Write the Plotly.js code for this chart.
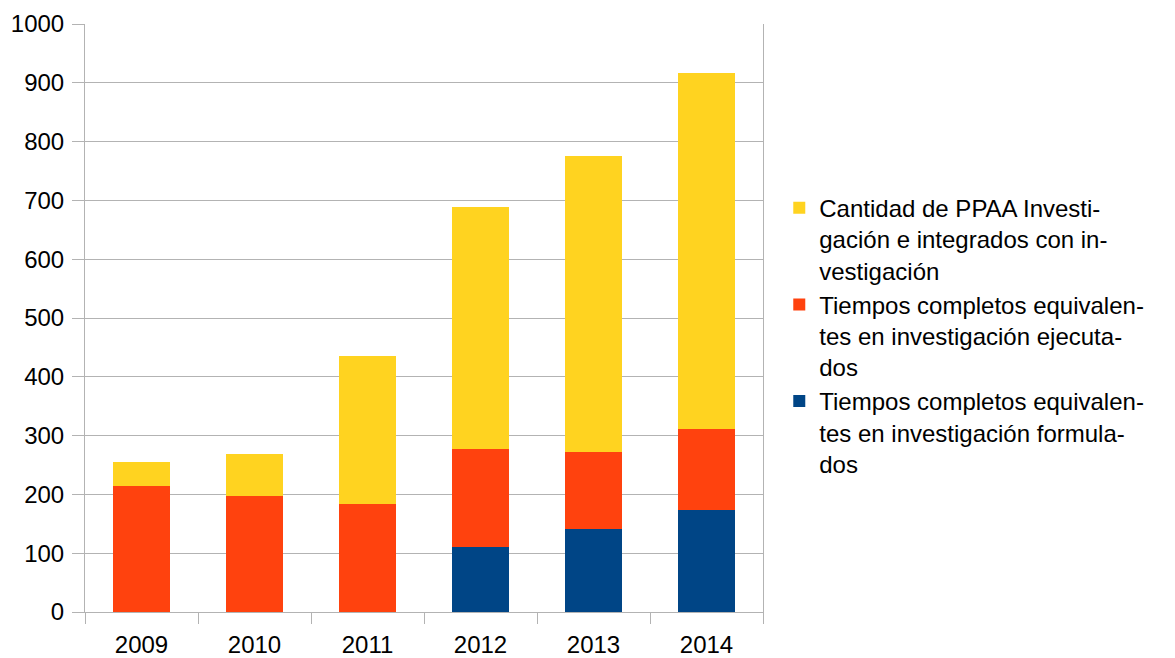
<!DOCTYPE html>
<html>
<head>
<meta charset="utf-8">
<script src="https://cdn.plot.ly/plotly-3.0.1.min.js"></script>
<style>html,body{margin:0;padding:0;background:#fff;}#chart{width:1175px;height:658px;}</style>
</head>
<body>
<div id="chart"></div>
<script>
const years = ['2009', '2010', '2011', '2012', '2013', '2014'];
const formulados = [0, 0, 0, 111, 142, 174];
const ejecutados = [214, 197, 184, 166, 130, 137];
const ppaa = [41, 71, 251, 412, 504, 605];
const seriesNames = [
  'Tiempos completos equivalen-<br>tes en investigación formula-<br>dos',
  'Tiempos completos equivalen-<br>tes en investigación ejecuta-<br>dos',
  'Cantidad de PPAA Investi-<br>gación e integrados con in-<br>vestigación'
];
const colors = ['#004586', '#FF420E', '#FFD320'];

const traces = [formulados, ejecutados, ppaa].map((vals, i) => ({
  type: 'bar',
  x: years,
  y: vals,
  name: seriesNames[i],
  marker: {color: colors[i], line: {width: 0}},
  hoverinfo: 'y+name'
}));

const font = {family: '"Liberation Sans", Arial, sans-serif', size: 24, color: '#000'};
const layout = {
  width: 1175, height: 658,
  margin: {l: 85, r: 412, t: 24, b: 46},
  barmode: 'stack',
  bargap: 0.5,
  paper_bgcolor: '#fff',
  plot_bgcolor: '#fff',
  font: font,
  showlegend: true,
  legend: {
    x: 1.024, xanchor: 'left', y: 0.725, yanchor: 'top',
    traceorder: 'reversed', valign: 'top',
    font: {family: font.family, size: 24, color: '#000'},
    tracegroupgap: 0
  },
  xaxis: {
    type: 'category',
    showgrid: false,
    showline: true, linecolor: '#b3b3b3', linewidth: 1,
    ticks: 'outside', tickson: 'boundaries', ticklen: 11, tickcolor: '#b3b3b3',
    ticklabelstandoff: 11,
    tickfont: font, mirror: false
  },
  yaxis: {
    range: [0, 1000], dtick: 100, tick0: 0,
    showgrid: true, gridcolor: '#b3b3b3', gridwidth: 1,
    showline: true, linecolor: '#b3b3b3', linewidth: 1, mirror: true,
    ticks: 'outside', ticklen: 12, tickcolor: '#b3b3b3',
    ticklabelstandoff: 3,
    zeroline: false,
    tickfont: font
  }
};

Plotly.newPlot('chart', traces, layout, {displayModeBar: false, staticPlot: true});
</script>
</body>
</html>
